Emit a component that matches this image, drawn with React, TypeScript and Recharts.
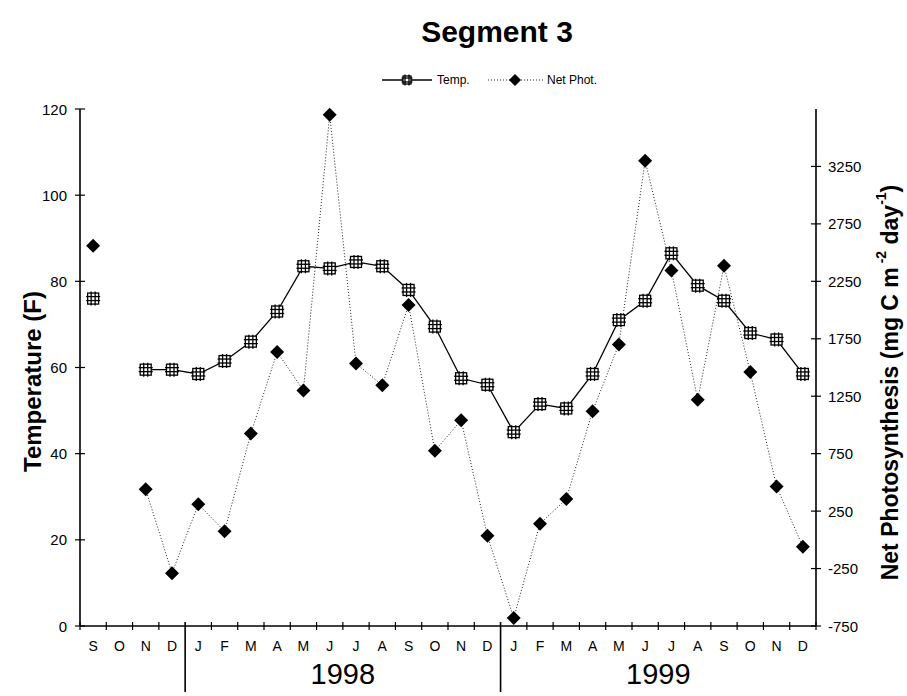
import React from 'react'
import { ComposedChart, Line, XAxis, YAxis } from 'recharts'

// months Sep 1997 .. Dec 1999
const months = ['S', 'O', 'N', 'D', 'J', 'F', 'M', 'A', 'M', 'J', 'J', 'A', 'S', 'O', 'N', 'D', 'J', 'F', 'M', 'A', 'M', 'J', 'J', 'A', 'S', 'O', 'N', 'D']
const temp = [76, null, 59.5, 59.5, 58.5, 61.5, 66, 73, 83.5, 83, 84.5, 83.5, 78, 69.5, 57.5, 56, 45, 51.5, 50.5, 58.5, 71, 75.5, 86.5, 79, 75.5, 68, 66.5, 58.5]
const netPhot = [2560, null, 440, -290, 310, 75, 925, 1635, 1300, 3700, 1535, 1345, 2045, 775, 1040, 35, -680, 140, 355, 1120, 1700, 3300, 2345, 1220, 2385, 1460, 465, -60]
const years = [
  { label: '1998', start: 4, end: 16 },
  { label: '1999', start: 16, end: 28 },
]
const leftTicks = [0, 20, 40, 60, 80, 100, 120]
const rightTicks = [-750, -250, 250, 750, 1250, 1750, 2250, 2750, 3250]

const W = 907
const H = 696
const FONT = '"Liberation Sans", Arial, sans-serif'
const LEFT_W = 80
const RIGHT_W = 91
const BAND = (W - LEFT_W - RIGHT_W) / months.length

const data = months.map((m, i) => ({ x: i + 0.5, month: m, temp: temp[i], netPhot: netPhot[i] }))
const xTicks = months.map((_, i) => i).concat(months.length)

function TempDot({ cx, cy, s = 5.5 }: any) {
  if (cx == null || cy == null) return <g />
  const e = s + 1.5
  return (
    <g stroke="#000" strokeWidth={1.3}>
      <rect x={cx - s} y={cy - s} width={s * 2} height={s * 2} fill="#fff" />
      <line x1={cx - 2} x2={cx - 2} y1={cy - e} y2={cy + e} />
      <line x1={cx + 2} x2={cx + 2} y1={cy - e} y2={cy + e} />
      <line x1={cx - e} x2={cx + e} y1={cy - 2} y2={cy - 2} />
      <line x1={cx - e} x2={cx + e} y1={cy + 2} y2={cy + 2} />
    </g>
  )
}

function DiamondDot({ cx, cy, s = 7 }: any) {
  if (cx == null || cy == null) return <g />
  return <polygon points={`${cx},${cy - s} ${cx + s},${cy} ${cx},${cy + s} ${cx - s},${cy}`} fill="#000" />
}

function LeftTick({ x, y, payload }: any) {
  return (
    <g>
      <line x1={x - 5} x2={x + 5} y1={y} y2={y} stroke="#000" strokeWidth={1.2} />
      <text x={x - 13} y={y} textAnchor="end" dominantBaseline="central" fontSize={15} fontFamily={FONT} fill="#000">
        {payload.value}
      </text>
    </g>
  )
}

function RightTick({ x, y, payload }: any) {
  return (
    <g>
      <line x1={x - 5} x2={x + 5} y1={y} y2={y} stroke="#000" strokeWidth={1.2} />
      <text x={x + 12} y={y} textAnchor="start" dominantBaseline="central" fontSize={15} fontFamily={FONT} fill="#000">
        {payload.value}
      </text>
    </g>
  )
}

function MonthTick({ x, y, payload }: any) {
  const v = payload.value
  const divider = years.some((g) => g.start === v)
  const yr = years.find((g) => (g.start + g.end) / 2 === v)
  return (
    <g>
      <line x1={x} x2={x} y1={y - 4} y2={y + (divider ? 66 : 4)} stroke="#000" strokeWidth={divider ? 1.6 : 1.2} />
      {v < months.length && (
        <text x={x + BAND / 2} y={y + 25} textAnchor="middle" fontSize={14} fontFamily={FONT} fill="#000">
          {months[v]}
        </text>
      )}
      {yr && (
        <text x={x} y={y + 58} textAnchor="middle" fontSize={29} fontFamily={FONT} fill="#000">
          {yr.label}
        </text>
      )}
    </g>
  )
}

function LeftTitle({ viewBox }: any) {
  const cx = viewBox.x + 32
  const cy = viewBox.y + viewBox.height / 2 + 14
  return (
    <text x={cx} y={cy} transform={`rotate(-90 ${cx} ${cy})`} textAnchor="middle" dominantBaseline="central" fontSize={24} fontWeight="bold" fontFamily={FONT} fill="#000">
      Temperature (F)
    </text>
  )
}

function RightTitle({ viewBox }: any) {
  const cx = viewBox.x + 74
  const cy = viewBox.y + viewBox.height / 2 + 15
  return (
    <text x={cx} y={cy} transform={`rotate(-90 ${cx} ${cy})`} textAnchor="middle" dominantBaseline="central" fontSize={23} fontWeight="bold" fontFamily={FONT} fill="#000">
      Net Photosynthesis (mg C m
      <tspan fontSize={14} dy={-9}> -2</tspan>
      <tspan dy={9}> day</tspan>
      <tspan fontSize={14} dy={-9}>-1</tspan>
      <tspan dy={9}>)</tspan>
    </text>
  )
}

export default function App() {
  return (
    <div style={{ position: 'relative', width: W, height: H, background: '#fff' }}>
      <style>{`body{margin:0;background:#fff}`}</style>
      <ComposedChart width={W} height={H} data={data} margin={{ top: 109, right: 0, bottom: 0, left: 0 }}>
        <XAxis
          dataKey="x"
          type="number"
          domain={[0, months.length]}
          ticks={xTicks}
          interval={0}
          height={70}
          tickSize={0}
          tickMargin={0}
          tickLine={false}
          tick={<MonthTick />}
          axisLine={{ stroke: '#000', strokeWidth: 1.6 }}
        />
        <YAxis
          yAxisId="left"
          domain={[0, 120]}
          ticks={leftTicks}
          width={LEFT_W}
          tickSize={0}
          tickMargin={0}
          tickLine={false}
          tick={<LeftTick />}
          axisLine={{ stroke: '#000', strokeWidth: 1.6 }}
          label={<LeftTitle />}
        />
        <YAxis
          yAxisId="right"
          orientation="right"
          domain={[-750, 3750]}
          ticks={rightTicks}
          width={RIGHT_W}
          tickSize={0}
          tickMargin={0}
          tickLine={false}
          tick={<RightTick />}
          axisLine={{ stroke: '#000', strokeWidth: 1.6 }}
          label={<RightTitle />}
        />
        <Line
          yAxisId="left"
          dataKey="temp"
          type="linear"
          stroke="#000"
          strokeWidth={1.3}
          dot={<TempDot />}
          activeDot={false}
          connectNulls={false}
          isAnimationActive={false}
        />
        <Line
          yAxisId="right"
          dataKey="netPhot"
          type="linear"
          stroke="#222"
          strokeWidth={1}
          strokeDasharray="1 2"
          dot={<DiamondDot />}
          activeDot={false}
          connectNulls={false}
          isAnimationActive={false}
        />
      </ComposedChart>
      <svg width={W} height={100} style={{ position: 'absolute', left: 0, top: 0, pointerEvents: 'none' }}>
        <text x={497} y={42} textAnchor="middle" fontSize={30} fontWeight="bold" fontFamily={FONT} fill="#000">
          Segment 3
        </text>
        <line x1={382} x2={432} y1={80} y2={80} stroke="#000" strokeWidth={1.3} />
        <TempDot cx={407} cy={80} s={4} />
        <text x={437} y={84} fontSize={12} fontFamily={FONT} fill="#000">Temp.</text>
        <line x1={488} x2={543} y1={80} y2={80} stroke="#222" strokeWidth={1} strokeDasharray="1 2" />
        <DiamondDot cx={515} cy={80} s={6} />
        <text x={547} y={84} fontSize={12} fontFamily={FONT} fill="#000">Net Phot.</text>
      </svg>
    </div>
  )
}
